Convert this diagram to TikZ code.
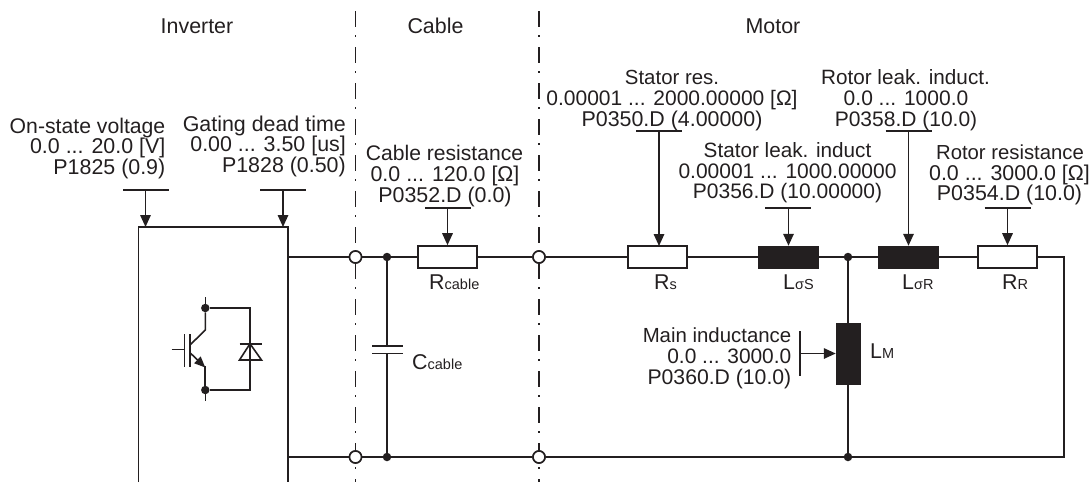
\documentclass[tikz,border=0pt]{standalone}
\usepackage{fontspec}
\setmainfont{Liberation Sans}
\usetikzlibrary{arrows.meta}
\definecolor{ink}{HTML}{231F20}
\newcommand{\tsize}{\fontsize{21.4}{21.4}\selectfont}
\newcommand{\sub}[2]{{\fontsize{21.4}{21.4}\selectfont #1}{\fontsize{14.5}{14.5}\selectfont #2}}
\tikzset{
  wire/.style={draw=ink,line width=1.6pt},
  res/.style={draw=ink,line width=1.6pt,fill=white,rectangle,inner sep=0pt,minimum height=22pt},
  ind/.style={draw=ink,fill=ink,rectangle,inner sep=0pt,line width=0.5pt,minimum height=22pt},
  junction/.style={circle,fill=ink,inner sep=0pt,minimum size=8.5pt},
  term/.style={circle,draw=ink,fill=white,line width=1.6pt,inner sep=0pt,minimum size=12pt},
  lab/.style={text=ink,inner sep=0pt,anchor=base,font=\tsize},
  labr/.style={text=ink,inner sep=0pt,anchor=base east,font=\tsize},
  labl/.style={text=ink,inner sep=0pt,anchor=base west},
  fs/.style={font=\fontsize{#1}{#1}\selectfont},
  sep/.style={draw=ink,line width=1.6pt,dash pattern=on 16pt off 8.3pt on 1.4pt off 10.3pt},
  pointer/.style={draw=ink,line width=1.6pt,-{Triangle[length=12pt,width=10.5pt]}},
}
\begin{document}
\begin{tikzpicture}[x=1pt,y=-1pt]
\useasboundingbox (0,0) rectangle (1089,482);
% separators
\coordinate (s1t) at (355.5,11); \coordinate (s1b) at (355.5,482);
\coordinate (s2t) at (539,11); \coordinate (s2b) at (539,482);
\draw[sep] (s1t) -- (s1b);
\draw[sep] (s2t) -- (s2b);
% headings
\node[lab] (hinv) at (197,33) {Inverter};
\node[lab] (hcab) at (435.5,33) {Cable};
\node[lab] (hmot) at (773,33) {Motor};
% parameter text
\node[labr,fs=21.2] (t1a) at (165.5,133) {On-state voltage};
\node[labr] (t1b) at (165.5,153) {0.0 ... 20.0 [V]};
\node[labr] (t1c) at (165.5,174) {P1825 (0.9)};
\node[labr] (t2a) at (346,131) {Gating dead time};
\node[labr] (t2b) at (346,151) {0.00 ... 3.50 [us]};
\node[labr] (t2c) at (346,172) {P1828 (0.50)};
\node[lab,fs=21.1] (t3a) at (444.5,160) {Cable resistance};
\node[lab] (t3b) at (445,181) {0.0 ... 120.0 [Ω]};
\node[lab] (t3c) at (445,202) {P0352.D (0.0)};
\node[lab,fs=20.4] (t4a) at (672,84) {Stator res.};
\node[lab,fs=21] (t4b) at (672,105) {0.00001 ... 2000.00000 [Ω]};
\node[lab] (t4c) at (672,126) {P0350.D (4.00000)};
\node[lab,fs=20.7] (t5a) at (787.5,157) {Stator leak. induct};
\node[lab,fs=21] (t5b) at (787.5,178) {0.00001 ... 1000.00000};
\node[lab,fs=21] (t5c) at (787.5,198) {P0356.D (10.00000)};
\node[lab,fs=20.7] (t6a) at (905.5,84) {Rotor leak. induct.};
\node[lab,fs=21] (t6b) at (906,105) {0.0 ... 1000.0};
\node[lab,fs=21] (t6c) at (906,126) {P0358.D (10.0)};
\node[lab,fs=20.3] (t7a) at (1010,159) {Rotor resistance};
\node[lab] (t7b) at (1009.5,180) {0.0 ... 3000.0 [Ω]};
\node[lab] (t7c) at (1009.5,200) {P0354.D (10.0)};
\node[labr,fs=20.4] (t8a) at (791.5,342) {Main inductance};
\node[labr,fs=20.9] (t8b) at (791.5,363) {0.0 ... 3000.0};
\node[labr,fs=21.2] (t8c) at (791.5,384) {P0360.D (10.0)};
% inverter box
\coordinate (bl) at (138.5,482); \coordinate (btl) at (138.5,227);
\coordinate (btr) at (288,227); \coordinate (br) at (288,482);
\draw[wire] (bl) -- (btl) -- (btr) -- (br);
% wires
\coordinate (wt0) at (288,257); \coordinate (wb0) at (288,457);
\node[term] (c1t) at (355.5,257) {};
\node[term] (c1b) at (355.5,457) {};
\node[term] (c2t) at (539,257) {};
\node[term] (c2b) at (539,457) {};
\node[junction] (j1t) at (387,257) {};
\node[junction] (j1b) at (387,457) {};
\node[junction] (j2t) at (848,257) {};
\node[junction] (j2b) at (848,457) {};
\node[res,minimum width=59pt] (rc) at (447.5,257) {};
\node[res,minimum width=59pt] (rs) at (657.5,257) {};
\node[ind,minimum width=60pt] (ls) at (788.5,257) {};
\node[ind,minimum width=60pt] (lr) at (908.5,257) {};
\node[res,minimum width=59pt] (rr) at (1007.5,257) {};
\node[ind,minimum width=24pt,minimum height=61pt] (lm) at (848,353.5) {};
\coordinate (ce) at (1064,257); \coordinate (cb) at (1064,457);
\draw[wire] (wt0) -- (c1t) -- (j1t) -- (rc) -- (c2t) -- (rs) -- (ls) -- (j2t) -- (lr) -- (rr) -- (ce) -- (cb) -- (j2b) -- (c2b) -- (j1b) -- (c1b) -- (wb0);
\draw[wire] (j2t) -- (lm);
\draw[wire] (lm) -- (j2b);
\node[term] at (c1t) {}; \node[term] at (c1b) {}; \node[term] at (c2t) {}; \node[term] at (c2b) {};
% capacitor
\coordinate (cp1) at (387,345.7); \coordinate (cp2) at (387,353.3);
\draw[wire] (j1t) -- (cp1); \draw[wire] (cp2) -- (j1b);
\draw[wire] (372,345.7) -- (402.5,345.7);
\draw[wire] (372,353.3) -- (402.5,353.3);
% component labels
\node[labl] (lrc) at (429,289) {\sub{R}{cable}};
\node[labl] (lcc) at (412,369) {\sub{C}{cable}};
\node[labl] (lrs) at (654,289) {\sub{R}{s}};
\node[labl] (lls) at (783,289) {\sub{L}{σS}};
\node[labl] (llr) at (902,289) {\sub{L}{σR}};
\node[labl] (lrr) at (1002,289) {\sub{R}{R}};
\node[labl] (llm) at (870,358) {\sub{L}{M}};
% pointers
\draw[wire] (123,190) -- (169,190);
\draw[pointer] (145.5,190) -- (145.5,227);
\draw[wire] (260,190) -- (306,190);
\draw[pointer] (283,190) -- (283,227);
\draw[wire] (425,208) -- (471,208);
\draw[pointer] (447.5,208) -- (rc.north);
\draw[wire] (636,131) -- (682,131);
\draw[pointer] (659,131) -- (659,246);
\draw[wire] (765,207.7) -- (811,207.7);
\draw[pointer] (788.5,207.7) -- (ls.north);
\draw[wire] (885.5,131) -- (931.5,131);
\draw[pointer] (908.5,131) -- (lr.north);
\draw[wire] (984.5,207.7) -- (1030.5,207.7);
\draw[pointer] (1007.5,207.7) -- (rr.north);
\draw[wire] (800,331) -- (800,376);
\draw[pointer] (800,353.5) -- (lm.west);
% IGBT and diode
\node[junction] (ic) at (205.3,308) {};
\node[junction] (ie) at (205.3,390) {};
\coordinate (ict) at (205.3,297); \coordinate (ieb) at (205.3,401);
\draw[wire] (ict) -- (ic);
\draw[wire] (ie) -- (ieb);
\draw[wire] (ic) -- (205.3,330) -- (190,345);
\draw[wire,-{Triangle[length=11pt,width=9pt]}] (190,352.7) -- (205.3,367.5);
\draw[wire,line width=2.2pt] (205.3,366) -- (ie);
\draw[wire] (190,334) -- (190,366.7);
\draw[wire] (184.3,334) -- (184.3,366.7);
\draw[wire] (171.5,349.3) -- (184.3,349.3);
\draw[wire] (ic) -- (250,308) -- (250,390) -- (ie);
\draw[wire] (239.5,343.7) -- (261.5,343.7);
\draw[wire] (250,343.7) -- (239.5,360) -- (261.5,360) -- cycle;
\end{tikzpicture}
\end{document}
